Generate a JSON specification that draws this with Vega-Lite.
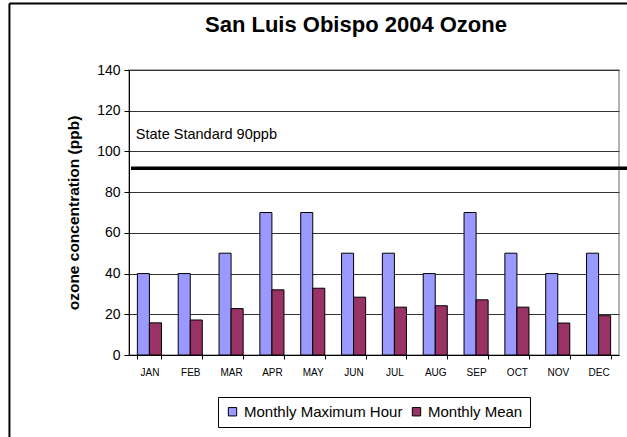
{
  "$schema": "https://vega.github.io/schema/vega-lite/v6.json",
  "width": 490,
  "height": 285,
  "autosize": {"type": "none"},
  "padding": {"left": 129, "top": 70, "right": 8, "bottom": 82},
  "background": "white",
  "title": {
    "text": "San Luis Obispo 2004 Ozone",
    "font": "Liberation Sans",
    "fontSize": 22,
    "fontWeight": "bold",
    "color": "black",
    "anchor": "middle",
    "frame": "group",
    "baseline": "bottom",
    "dx": -18,
    "offset": -57
  },
  "config": {
    "font": "Liberation Sans",
    "view": {"stroke": "#999999", "strokeWidth": 1.5},
    "axis": {"labelFont": "Liberation Sans", "titleFont": "Liberation Sans", "labelColor": "black", "titleColor": "black", "domainColor": "black", "tickColor": "black"}
  },
  "datasets": {
    "bars": [
      {"month": "JAN", "series": "Monthly Maximum Hour", "ppb": 40},
      {"month": "FEB", "series": "Monthly Maximum Hour", "ppb": 40},
      {"month": "MAR", "series": "Monthly Maximum Hour", "ppb": 50},
      {"month": "APR", "series": "Monthly Maximum Hour", "ppb": 70},
      {"month": "MAY", "series": "Monthly Maximum Hour", "ppb": 70},
      {"month": "JUN", "series": "Monthly Maximum Hour", "ppb": 50},
      {"month": "JUL", "series": "Monthly Maximum Hour", "ppb": 50},
      {"month": "AUG", "series": "Monthly Maximum Hour", "ppb": 40},
      {"month": "SEP", "series": "Monthly Maximum Hour", "ppb": 70},
      {"month": "OCT", "series": "Monthly Maximum Hour", "ppb": 50},
      {"month": "NOV", "series": "Monthly Maximum Hour", "ppb": 40},
      {"month": "DEC", "series": "Monthly Maximum Hour", "ppb": 50},
      {"month": "JAN", "series": "Monthly Mean", "ppb": 15.8},
      {"month": "FEB", "series": "Monthly Mean", "ppb": 17.2},
      {"month": "MAR", "series": "Monthly Mean", "ppb": 22.8},
      {"month": "APR", "series": "Monthly Mean", "ppb": 32},
      {"month": "MAY", "series": "Monthly Mean", "ppb": 32.8},
      {"month": "JUN", "series": "Monthly Mean", "ppb": 28.4},
      {"month": "JUL", "series": "Monthly Mean", "ppb": 23.5},
      {"month": "AUG", "series": "Monthly Mean", "ppb": 24.2},
      {"month": "SEP", "series": "Monthly Mean", "ppb": 27.1},
      {"month": "OCT", "series": "Monthly Mean", "ppb": 23.5},
      {"month": "NOV", "series": "Monthly Mean", "ppb": 15.7},
      {"month": "DEC", "series": "Monthly Mean", "ppb": 19.3}
    ],
    "standard": [{"label": "State Standard 90ppb", "x": 0.004, "x2": 1.02, "y": 91.7, "tx": 0.014, "ty": 108}],
    "frame": [
      {"x": -0.244, "x2": -0.244, "y": 172.7, "y2": -45},
      {"x": -0.244, "x2": 1.05, "y": 172.7, "y2": 172.7}
    ]
  },
  "layer": [
    {
      "data": {"name": "bars"},
      "mark": {"type": "bar", "stroke": "black", "strokeWidth": 1},
      "encoding": {
        "x": {
          "field": "month", "type": "nominal", "sort": null,
          "scale": {"paddingInner": 0.41, "paddingOuter": 0.205},
          "axis": {"title": null, "labelAngle": 0, "labelFontSize": 10, "labelPadding": 8, "tickBand": "extent", "tickSize": 4, "domainColor": "black", "domainWidth": 1}
        },
        "xOffset": {"field": "series", "type": "nominal", "sort": ["Monthly Maximum Hour", "Monthly Mean"], "scale": {"paddingInner": 0, "paddingOuter": 0}},
        "y": {
          "field": "ppb", "type": "quantitative",
          "scale": {"domain": [0, 140], "nice": false},
          "axis": {"title": "ozone concentration (ppb)", "titleFontSize": 15.5, "titleFontWeight": "bold", "titlePadding": 15, "values": [0, 20, 40, 60, 80, 100, 120, 140], "labelFontSize": 14, "labelPadding": 4, "tickSize": 5, "gridColor": "#333333", "gridWidth": 1, "domainColor": "black"}
        },
        "color": {
          "field": "series", "type": "nominal",
          "scale": {"domain": ["Monthly Maximum Hour", "Monthly Mean"], "range": ["#9999FF", "#993366"]},
          "legend": {
            "title": null, "orient": "none", "direction": "horizontal", "legendX": 89, "legendY": 327,
            "symbolType": "square", "symbolSize": 70, "symbolStrokeColor": "black", "symbolStrokeWidth": 1,
            "labelFontSize": 15, "labelColor": "black", "labelFont": "Liberation Sans", "labelOffset": 4, "columnPadding": 6,
            "strokeColor": "black", "fillColor": "white", "padding": 7
          }
        }
      }
    },
    {
      "data": {"name": "standard"},
      "mark": {"type": "rule", "color": "black", "strokeWidth": 3.5, "clip": false},
      "encoding": {
        "x": {"field": "x", "type": "quantitative", "scale": {"domain": [0, 1], "nice": false, "zero": false}, "axis": null},
        "x2": {"field": "x2"},
        "y": {"field": "y", "type": "quantitative", "scale": {"domain": [0, 140], "nice": false}}
      }
    },
    {
      "data": {"name": "standard"},
      "mark": {"type": "text", "align": "left", "baseline": "middle", "fontSize": 14.5, "font": "Liberation Sans", "color": "black"},
      "encoding": {
        "x": {"field": "tx", "type": "quantitative", "scale": {"domain": [0, 1], "nice": false, "zero": false}, "axis": null},
        "y": {"field": "ty", "type": "quantitative", "scale": {"domain": [0, 140], "nice": false}},
        "text": {"field": "label"}
      }
    },
    {
      "data": {"name": "frame"},
      "mark": {"type": "rule", "color": "black", "strokeWidth": 2, "clip": false},
      "encoding": {
        "x": {"field": "x", "type": "quantitative", "scale": {"domain": [0, 1], "nice": false, "zero": false}, "axis": null},
        "x2": {"field": "x2"},
        "y": {"field": "y", "type": "quantitative", "scale": {"domain": [0, 140], "nice": false}},
        "y2": {"field": "y2"}
      }
    }
  ],
  "resolve": {"scale": {"x": "independent"}, "axis": {"x": "independent"}}
}
